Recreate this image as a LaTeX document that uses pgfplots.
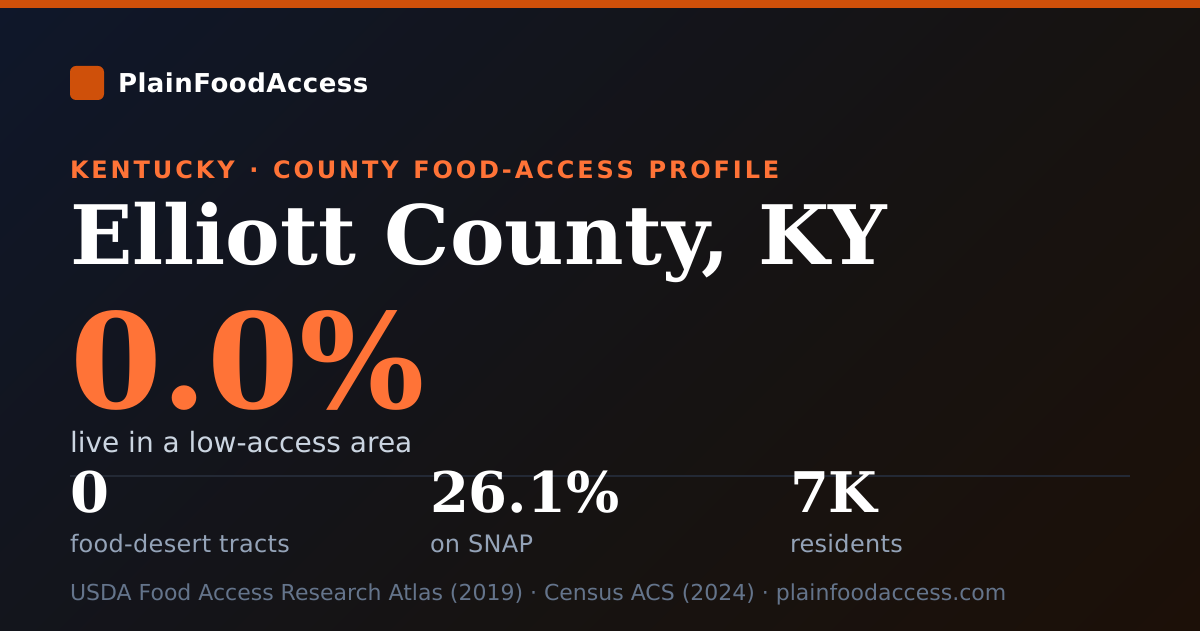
\documentclass[border=0pt]{standalone}
\usepackage{fontspec}
\setmainfont{DejaVu Sans}
\newfontfamily\serifb{DejaVu Serif}[BoldFont={DejaVu Serif Bold}]
\newfontface\kick{DejaVu Sans Bold}[LetterSpace=12,Kerning=Off,WordSpace=1.3]
\usepackage{pgfplots}
\pgfplotsset{compat=1.18}
\definecolor{cA}{HTML}{0F172A}
\definecolor{cB}{HTML}{161312}
\definecolor{cC}{HTML}{1C1008}
\definecolor{accent}{HTML}{CF500A}
\definecolor{orangeT}{HTML}{FF7337}
\definecolor{subT}{HTML}{CBD5E1}
\definecolor{mutedT}{HTML}{94A3B8}
\definecolor{footT}{HTML}{64748B}
\definecolor{rule}{HTML}{232935}
\pgfdeclareverticalshading{card}{100bp}{color(0bp)=(cC); color(25bp)=(cC); color(45bp)=(cB); color(75bp)=(cA); color(100bp)=(cA)}
\newcommand{\fs}[1]{\fontsize{#1}{#1}\selectfont}
\tikzset{t/.style={anchor=base west,inner sep=0pt,outer sep=0pt}}
\begin{document}
\begin{tikzpicture}[x=1pt,y=1pt]
\path[use as bounding box] (0,0) rectangle (1200,630);
\begin{scope}
\clip (-3,-3) rectangle (1203,633);
\shade[shading=card,shading angle=45] (600-647,315-647) rectangle (600+647,315+647);
\end{scope}
\begin{axis}[at={(0,0)},anchor=south west,scale only axis,width=1200pt,height=630pt,
  xmin=0,xmax=1200,ymin=0,ymax=630,hide axis,clip=false]
\addplot[draw=none,fill=accent] coordinates {(-3,622) (1203,622) (1203,633) (-3,633)} \closedcycle;
\addplot[rule,line width=2pt] coordinates {(70,154) (1130,154)};
\fill[accent,rounded corners=6pt] (axis cs:70,530) rectangle (axis cs:104,564);
\node[t,text=white] at (axis cs:118,537) {\fs{26}\bfseries\addfontfeature{LetterSpace=1.9}PlainFoodAccess};
\node[t,text=orangeT] at (axis cs:70,451) {\kick\fs{24}KENTUCKY · COUNTY FOOD-ACCESS PROFILE};
\node[t,text=white] at (axis cs:70,365) {\serifb\fs{82}\bfseries Elliott County, KY};
\node[t,text=orangeT] at (axis cs:70,221) {\serifb\fs{132}\bfseries 0.0\%};
\node[t,text=subT] at (axis cs:70,178) {\fs{28}live in a low-access area};
\node[t,text=white] at (axis cs:70,118) {\serifb\fs{56}\bfseries 0};
\node[t,text=white] at (axis cs:430,118) {\serifb\fs{56}\bfseries 26.1\%};
\node[t,text=white] at (axis cs:790,118) {\serifb\fs{56}\bfseries 7K};
\node[t,text=mutedT] at (axis cs:70,78) {\fs{24}\addfontfeature{LetterSpace=1.25}food-desert tracts};
\node[t,text=mutedT] at (axis cs:430,78) {\fs{24}\addfontfeature{LetterSpace=1.25}on SNAP};
\node[t,text=mutedT] at (axis cs:790,78) {\fs{24}\addfontfeature{LetterSpace=1.25}residents};
\node[t,text=footT] at (axis cs:70,30) {\fs{22}USDA Food Access Research Atlas (2019) · Census ACS (2024) · plainfoodaccess.com};
\end{axis}
\end{tikzpicture}
\end{document}
